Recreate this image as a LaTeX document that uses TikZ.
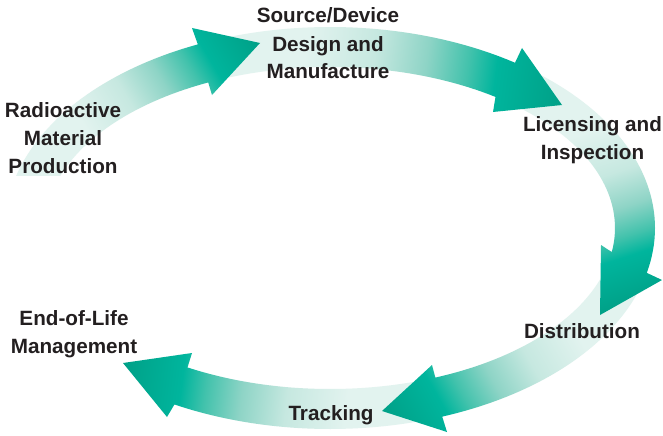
\documentclass[tikz,border=0pt]{standalone}
\usepackage{fontspec}
\setmainfont{Liberation Sans}
\definecolor{cA}{HTML}{E2F3EF}
\definecolor{cB}{HTML}{C6E8E0}
\definecolor{cC}{HTML}{8ED4C6}
\definecolor{cD}{HTML}{42C2AC}
\definecolor{cE}{HTML}{00B59D}
\definecolor{cF}{HTML}{00A087}
\definecolor{txt}{HTML}{231F20}
\pgfdeclarehorizontalshading{arrowgrad}{100bp}{color(0bp)=(cA); color(41.7bp)=(cA); color(48.3bp)=(cB); color(53.3bp)=(cC); color(57.3bp)=(cD); color(60bp)=(cE); color(66.7bp)=(cF); color(100bp)=(cF)}
% #1 start angle, #2 outer end angle, #3 inner end angle, #4 index, #5 gradient angle, #6 gradient length
\newcommand\ringarrow[6]{%
  \begin{scope}
    \clip plot[domain=#1:#2,samples=40] ({330+325*cos(\x)},{228+201*sin(\x)})
      -- (w#4o) -- (h#4) -- (w#4i)
      -- plot[domain=#3:#1,samples=40] ({330+285*cos(\x)},{228+161*sin(\x)}) -- cycle;
    \begin{scope}[overlay,transform canvas={shift={(t#4)},rotate=#5}]
      \shade[shading=arrowgrad] ({-0.25*#6},-160) rectangle ({1.25*#6},160);
    \end{scope}
  \end{scope}}
\tikzset{lbl/.style={font=\fontsize{15.5pt}{21pt}\selectfont\bfseries, text=txt, inner sep=0pt, anchor=base}}
\begin{document}
\begin{tikzpicture}[x=0.75pt,y=-0.75pt]
\path[use as bounding box, fill=white] (0,0) rectangle (663,435);
% arrow geometry (tails, wings, tips)
\coordinate (t1) at (38,175);    \coordinate (w1o) at (192,28);  \coordinate (h1) at (260,43);  \coordinate (w1i) at (212,95);
\coordinate (t2) at (215.6,60.2);\coordinate (w2o) at (522,48);  \coordinate (h2) at (562,105); \coordinate (w2i) at (493,112);
\coordinate (t3) at (526,89);    \coordinate (w3o) at (662,280); \coordinate (h3) at (600,315); \coordinate (w3i) at (601,245);
\coordinate (t4) at (624.6,274.9);\coordinate (w4o) at (447,432);\coordinate (h4) at (382,411); \coordinate (w4i) at (432,365);
\coordinate (t5) at (424,400);   \coordinate (w5o) at (167,417); \coordinate (h5) at (123,363); \coordinate (w5i) at (192,353);
% arrows, drawn so each head lies over the next tail
\ringarrow{72}{118.6}{120}{5}{173}{303.3}
\ringarrow{15}{69.8}{68.3}{4}{-150.7}{278.2}
\ringarrow{310}{372.9}{368.6}{3}{-71.9}{237.8}
\ringarrow{248}{304.7}{305.5}{2}{-7.4}{349.3}
\begin{scope}
  \clip (0,0) rectangle (663,175);
  \ringarrow{190}{246}{244.7}{1}{30.7}{258.3}
\end{scope}
% labels
\node[lbl] (prod) at (63,117) {\begin{tabular}[t]{@{}c@{}}Radioactive\\Material\\Production\end{tabular}};
\node[lbl] (design) at (328,23) {\begin{tabular}[t]{@{}c@{}}Source/Device\\Design and\\Manufacture\end{tabular}};
\node[lbl] (lic) at (592.5,131) {\begin{tabular}[t]{@{}c@{}}Licensing and\\Inspection\end{tabular}};
\node[lbl] (dist) at (582,338) {Distribution};
\node[lbl] (track) at (331,420) {Tracking};
\node[lbl] (eol) at (74,325) {\begin{tabular}[t]{@{}c@{}}End-of-Life\\Management\end{tabular}};
\end{tikzpicture}
\end{document}
